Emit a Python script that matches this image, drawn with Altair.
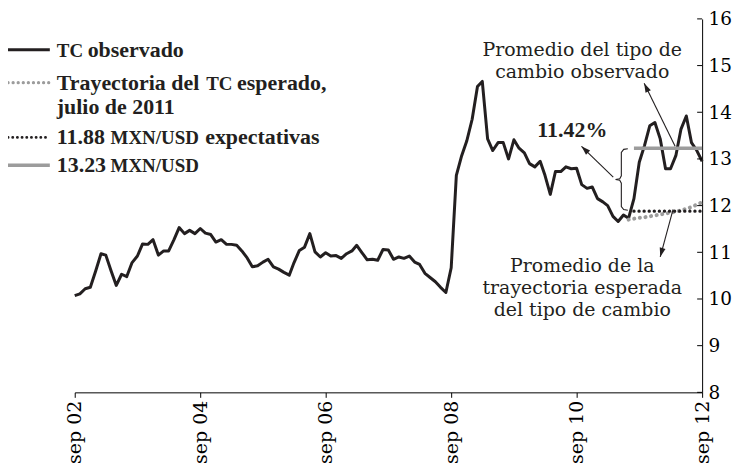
import math
from datetime import datetime
import altair as alt
import pandas as pd

# ---------------- data ----------------
# Monthly observed exchange rate (MXN/USD), sep 2002 .. sep 2012
observed = [
    10.07, 10.11, 10.22, 10.25, 10.60, 10.97, 10.94, 10.60, 10.29, 10.53,
    10.48, 10.78, 10.92, 11.18, 11.17, 11.27, 10.94, 11.03, 11.03, 11.27,
    11.53, 11.40, 11.47, 11.40, 11.51, 11.41, 11.38, 11.22, 11.27, 11.17,
    11.17, 11.15, 11.03, 10.88, 10.69, 10.71, 10.79, 10.85, 10.69, 10.64,
    10.57, 10.51, 10.78, 11.04, 11.11, 11.40, 11.01, 10.90, 10.99, 10.92,
    10.93, 10.87, 10.97, 11.03, 11.15, 10.99, 10.84, 10.85, 10.83, 11.06,
    11.05, 10.85, 10.90, 10.87, 10.92, 10.79, 10.74, 10.55, 10.46, 10.37,
    10.25, 10.14, 10.67, 12.65, 13.07, 13.39, 13.85, 14.55, 14.66, 13.43,
    13.18, 13.35, 13.35, 13.00, 13.41, 13.23, 13.13, 12.90, 12.83, 12.95,
    12.65, 12.24, 12.73, 12.73, 12.83, 12.79, 12.80, 12.45, 12.37, 12.40,
    12.15, 12.08, 12.00, 11.77, 11.66, 11.80, 11.73, 12.15, 12.93, 13.28,
    13.71, 13.78, 13.43, 12.79, 12.79, 13.07, 13.64, 13.92, 13.35, 13.18,
    12.95,
]
# Expected trajectory (july 2011 survey), jul 2011 .. sep 2012
traj_start = 106
trajectory = [11.70, 11.72, 11.74, 11.75, 11.77, 11.79, 11.81, 11.83,
              11.85, 11.87, 11.90, 11.93, 11.97, 12.02, 12.07]
avg_start, avg_end = 107, 120
exp_level = 11.88
obs_level = 13.23

y_ticks = [8, 9, 10, 11, 12, 13, 14, 15, 16]
x_tick_years = [2002, 2004, 2006, 2008, 2010, 2012]

legend_rows = [  # (symbol style, line y)
    ("solid_black", 31),
    ("dot_gray", 64),
    ("dot_black", 119),
    ("solid_gray", 147),
]
legend_text = [  # text, x, baseline y, font size
    ("TC", -18, 38, 19), ("observado", 13, 38, 22),
    ("Trayectoria del", -18, 71, 22), ("TC", 132, 71, 19), ("esperado,", 163, 71, 22),
    ("julio de 2011", -18, 95, 22),
    ("11.88", -18, 126, 22), ("MXN/USD", 36, 126, 19), ("expectativas", 131, 126, 22),
    ("13.23", -18, 154, 22), ("MXN/USD", 36, 154, 19),
]

# annotations in data units (month index from sep 2002, value)
ann_text = [
    ("Promedio del tipo de", 97.1, 15.34),
    ("cambio observado", 97.1, 14.86),
    ("Promedio de la", 97.1, 10.71),
    ("trayectoria esperada", 97.1, 10.24),
    ("del tipo de cambio", 97.1, 9.76),
]
pct_label = ("11.42%", 95.2, 13.61)
arrows = [  # (start month, start value, tip month, tip value)
    (103.05, 12.61, 96.95, 13.27),
    (114.86, 13.27, 108.95, 14.62),
    (114.48, 11.92, 112.00, 10.90),
]
brace_x, brace_top, brace_bot = 104.6, 13.22, 11.90

# ---------------- helpers ----------------
def month_date(i):
    y = 2002 + (8 + i) // 12
    m = (8 + i) % 12 + 1
    return datetime(y, m, 1)

def frac_date(f):
    i = int(math.floor(f))
    a, b = month_date(i), month_date(i + 1)
    return a + (b - a) * (f - i)

def fmt(d):
    return d.strftime("%Y-%m-%dT%H:%M:%S")

W, H = 630, 375
PX_M, PX_V = W / 120, H / 8  # pixels per month / per unit (for arrow angle)

obs_df = pd.DataFrame({"date": [fmt(month_date(i)) for i in range(len(observed))], "v": observed})
traj_df = pd.DataFrame({"date": [fmt(month_date(traj_start + i)) for i in range(len(trajectory))],
                        "v": trajectory})
exp_df = pd.DataFrame({"date": [fmt(month_date(avg_start)), fmt(month_date(avg_end))],
                       "v": [exp_level, exp_level]})
avg_df = pd.DataFrame({"date": [fmt(month_date(avg_start)), fmt(month_date(avg_end))],
                       "v": [obs_level, obs_level]})

mid = (brace_top + brace_bot) / 2
bx = [brace_x + 1.25, brace_x + 0.45, brace_x, brace_x, brace_x - 0.3, brace_x - 1.1,
      brace_x - 0.3, brace_x, brace_x, brace_x + 0.45, brace_x + 1.25]
by = [brace_top, brace_top - 0.015, brace_top - 0.08, mid + 0.08, mid + 0.015, mid,
      mid - 0.015, mid - 0.08, brace_bot + 0.08, brace_bot + 0.015, brace_bot]
brace_df = pd.DataFrame({"date": [fmt(frac_date(f)) for f in bx], "v": by, "o": list(range(len(bx)))})

ann_df = pd.DataFrame({"text": [t for t, _, _ in ann_text],
                       "date": [fmt(frac_date(m)) for _, m, _ in ann_text],
                       "v": [v for _, _, v in ann_text]})
pct_df = pd.DataFrame({"text": [pct_label[0]], "date": [fmt(frac_date(pct_label[1]))], "v": [pct_label[2]]})

arrow_df = pd.DataFrame({
    "date": [fmt(frac_date(a[0])) for a in arrows],
    "v": [a[1] for a in arrows],
    "date2": [fmt(frac_date(a[2])) for a in arrows],
    "v2": [a[3] for a in arrows],
})
heads_df = pd.DataFrame({
    "date": [fmt(frac_date(a[2])) for a in arrows],
    "v": [a[3] for a in arrows],
    "ang": [math.degrees(math.atan2((a[2] - a[0]) * PX_M, (a[3] - a[1]) * PX_V)) % 360 for a in arrows],
})
ytick_df = pd.DataFrame({"v": y_ticks})

BLACK = "#231f20"
GRAY = "#9c9c9c"
SERIF = "DejaVu Serif"
BOLD_SERIF = "Liberation Serif"

x_scale = alt.Scale(domain=[alt.DateTime(year=2002, month=9, date=1),
                            alt.DateTime(year=2012, month=9, date=1)], nice=False)
y_scale = alt.Scale(domain=[8, 16], nice=False, zero=False)

x_enc = alt.X("date:T", scale=x_scale, title=None, axis=alt.Axis(
    values=[alt.DateTime(year=y, month=9, date=1) for y in x_tick_years],
    labelExpr="'sep ' + timeFormat(datum.value, '%y')",
    labelAngle=270, labelFont=SERIF, labelFontSize=19, labelColor="black",
    labelPadding=3, tickSize=5, tickColor="black", domainColor="black",
    grid=False, labelFlush=False, labelOverlap=False))
y_enc = alt.Y("v:Q", scale=y_scale, title=None, axis=alt.Axis(
    orient="right", values=y_ticks, labelFont=SERIF, labelFontSize=18.5,
    labelColor="black", labelPadding=6, ticks=False, domainColor="black",
    grid=False, labelFlush=False, labelOverlap=False))

base_obs = alt.Chart(obs_df).mark_line(color=BLACK, strokeWidth=3, strokeJoin="round").encode(x=x_enc, y=y_enc)
traj_line = alt.Chart(traj_df).mark_line(color=GRAY, strokeWidth=4, strokeCap="round",
                                          strokeDash=[0.1, 5.6]).encode(x="date:T", y="v:Q")
exp_line = alt.Chart(exp_df).mark_line(color=BLACK, strokeWidth=3.3, strokeCap="round",
                                        strokeDash=[0.1, 5]).encode(x="date:T", y="v:Q")
avg_line = alt.Chart(avg_df).mark_line(color=GRAY, strokeWidth=3.6).encode(x="date:T", y="v:Q")

yticks = alt.Chart(ytick_df).mark_rule(color="black", strokeWidth=1).encode(
    y="v:Q", x=alt.value(W - 5), x2=alt.value(W))

brace = alt.Chart(brace_df).mark_line(color=BLACK, strokeWidth=1.1).encode(
    x="date:T", y="v:Q", order="o:Q")
arrow_lines = alt.Chart(arrow_df).mark_rule(color=BLACK, strokeWidth=1.1).encode(
    x="date:T", y="v:Q", x2="date2:T", y2="v2:Q")
arrow_heads = alt.Chart(heads_df).mark_point(
    shape="M0,0L0.42,1.3L-0.42,1.3Z", filled=True, color=BLACK, size=200, opacity=1, strokeWidth=0
).encode(x="date:T", y="v:Q", angle=alt.Angle("ang:Q", scale=None))

ann = alt.Chart(ann_df).mark_text(font=SERIF, fontSize=19, color=BLACK, align="center",
                                   baseline="middle").encode(x="date:T", y="v:Q", text="text:N")
pct = alt.Chart(pct_df).mark_text(font=BOLD_SERIF, fontWeight="bold", fontSize=22, color=BLACK,
                                   align="center", baseline="middle").encode(x="date:T", y="v:Q", text="text:N")

# ---------------- legend (drawn beside the plot area) ----------------
styles = {
    "solid_black": dict(color=BLACK, strokeWidth=3),
    "dot_gray": dict(color=GRAY, strokeWidth=3.2, strokeCap="round", strokeDash=[0.1, 5]),
    "dot_black": dict(color=BLACK, strokeWidth=2.8, strokeCap="round", strokeDash=[0.1, 4.6]),
    "solid_gray": dict(color=GRAY, strokeWidth=3.4),
}
legend_layers = []
for style, ly in legend_rows:
    d = pd.DataFrame({"x": [-67], "x2": [-25], "y": [ly]})
    legend_layers.append(alt.Chart(d).mark_rule(**styles[style]).encode(
        x=alt.X("x:Q", scale=None), x2="x2:Q", y=alt.Y("y:Q", scale=None)))
leg_df = pd.DataFrame({"text": [t[0] for t in legend_text], "x": [t[1] for t in legend_text],
                       "y": [t[2] for t in legend_text], "fs": [t[3] for t in legend_text]})
legend_texts = alt.Chart(leg_df).mark_text(font=BOLD_SERIF, fontWeight="bold", color=BLACK,
                                            align="left", baseline="alphabetic").encode(
    x=alt.X("x:Q", scale=None), y=alt.Y("y:Q", scale=None),
    size=alt.Size("fs:Q", scale=None, legend=None), text="text:N")

chart = alt.layer(
    base_obs, traj_line, exp_line, avg_line, yticks, brace, arrow_lines, arrow_heads,
    ann, pct, *legend_layers, legend_texts
).properties(
    width=W, height=H,
    padding={"left": 67, "top": 10, "right": 30, "bottom": 70},
    autosize=alt.AutoSizeParams(type="none"),
    background="white",
).configure_view(stroke=None).configure_axis(domainWidth=1)

chart.save("out.html", embed_options={"renderer": "svg", "actions": False})
